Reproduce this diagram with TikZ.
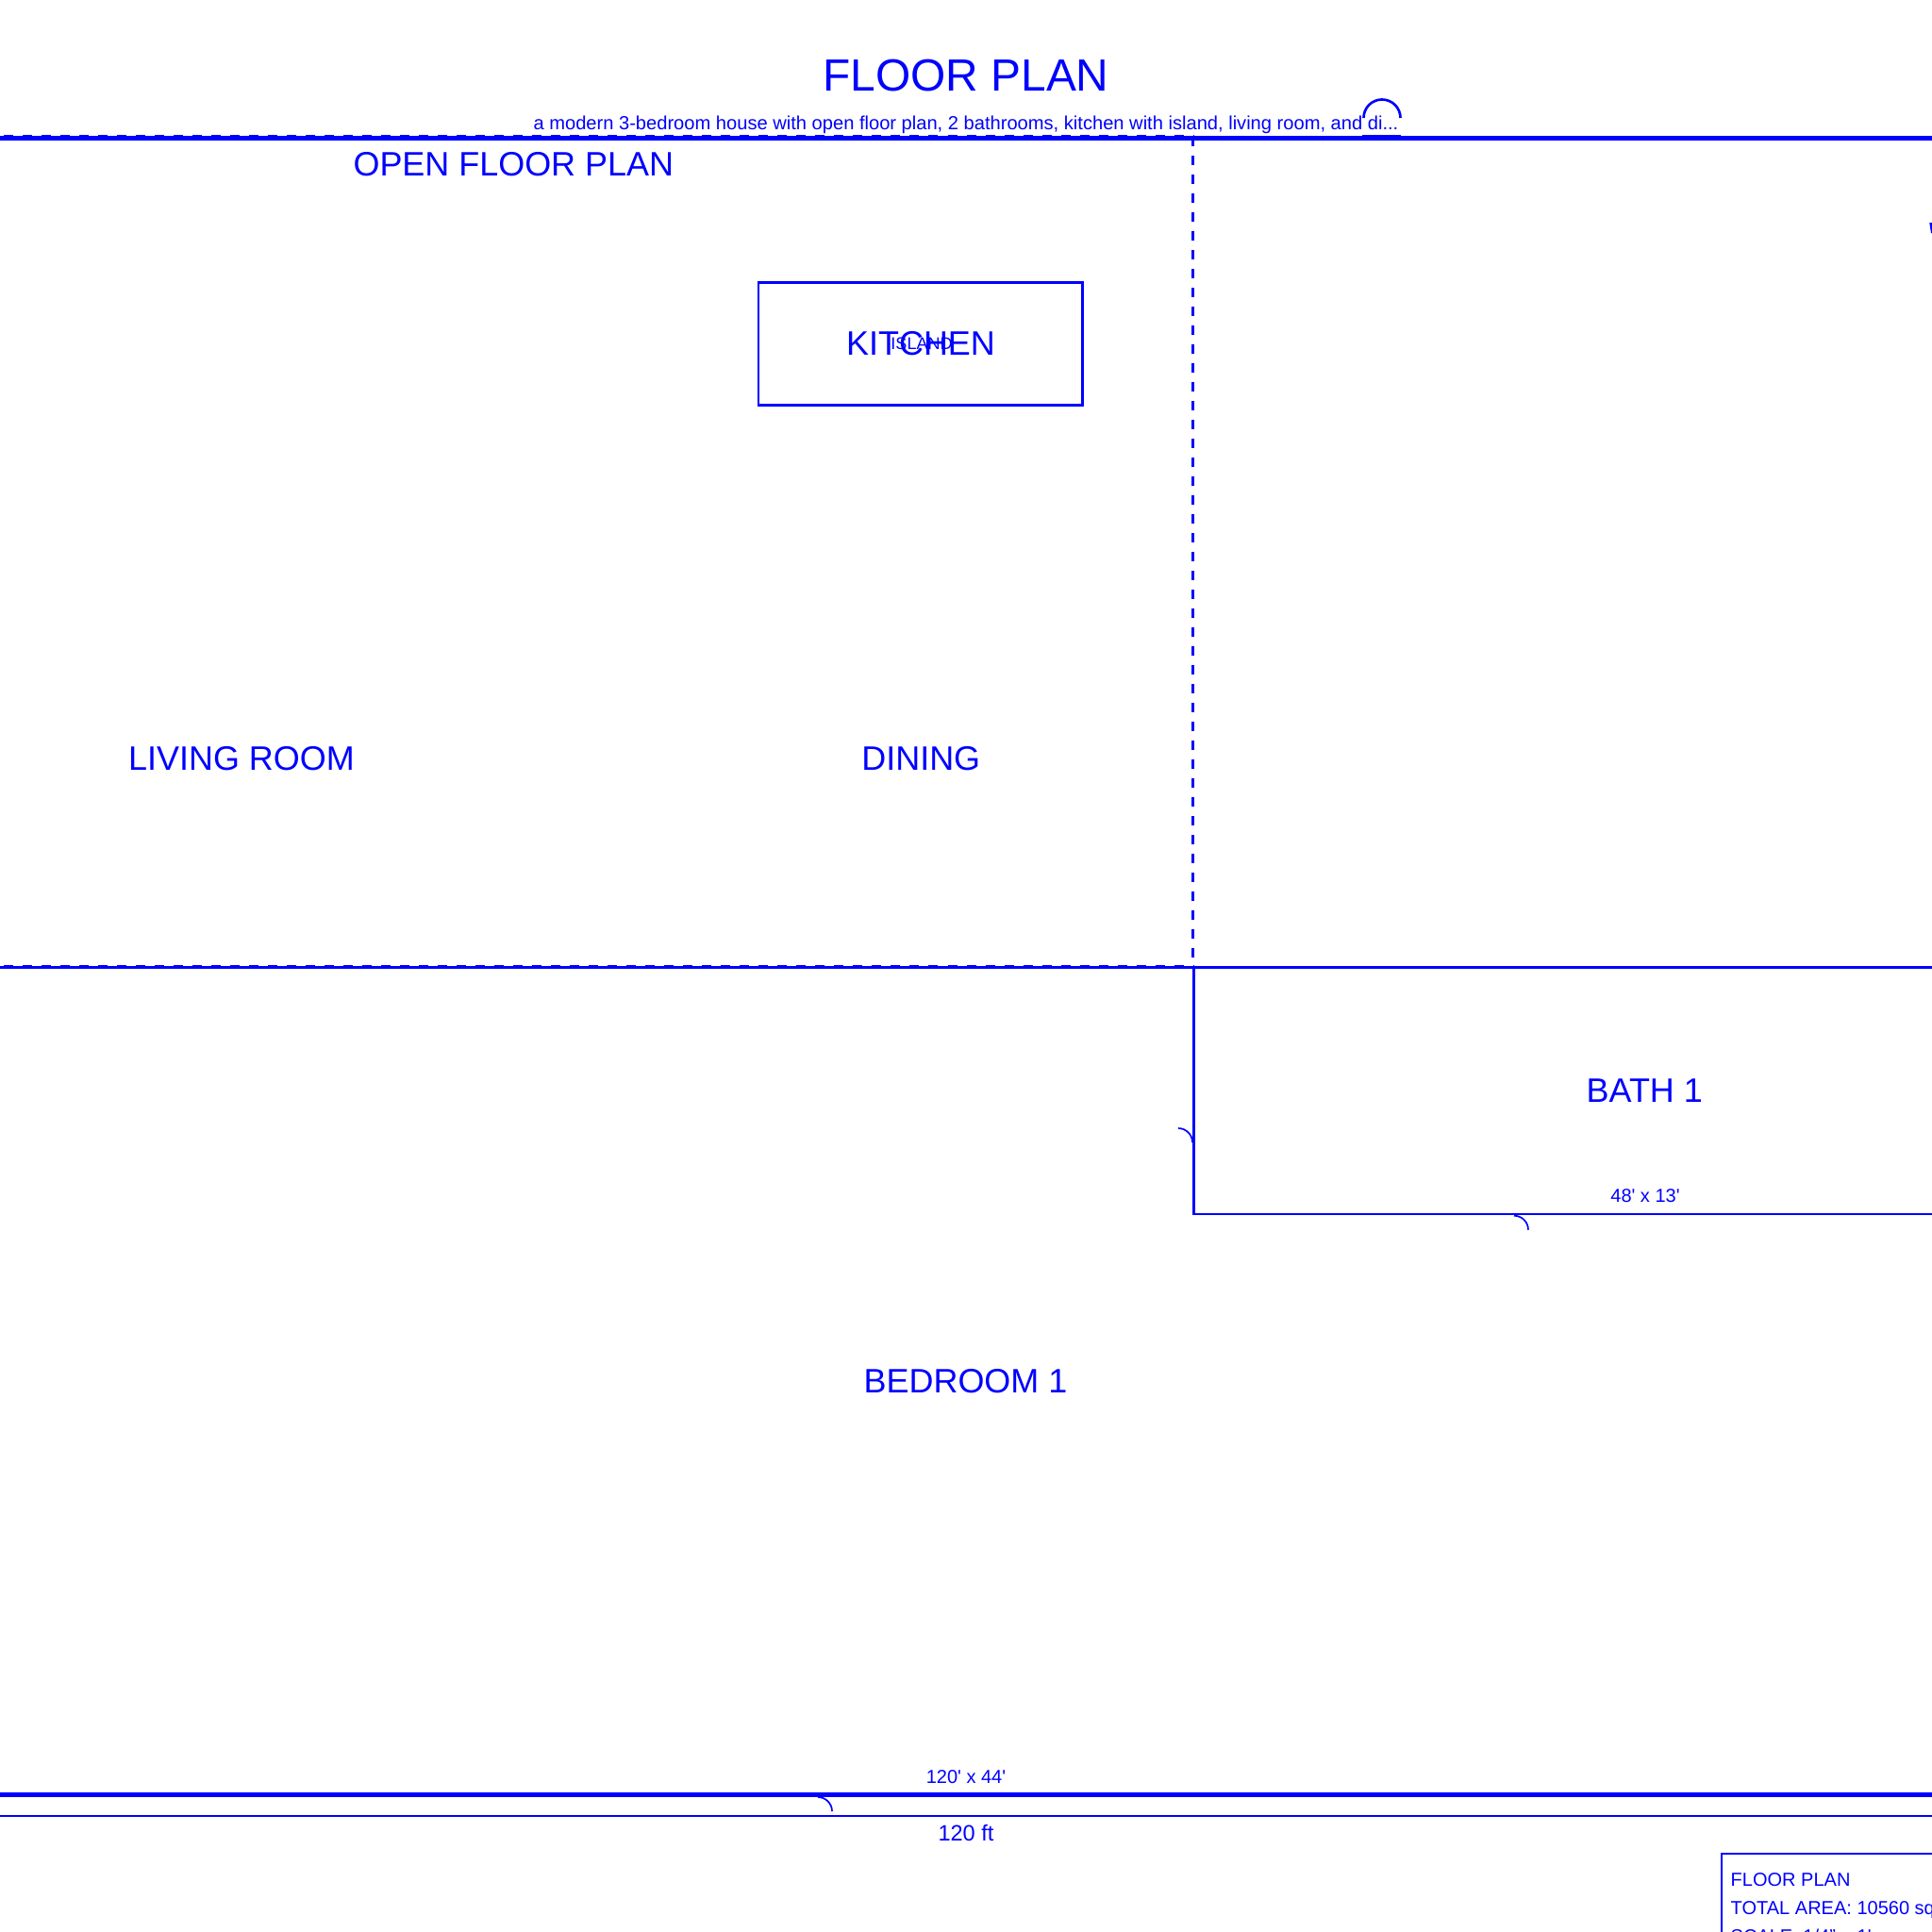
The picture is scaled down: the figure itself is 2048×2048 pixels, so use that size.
\documentclass[tikz,border=0pt]{standalone}
\usepackage{fontspec}
\setmainfont{Liberation Sans}
\newcommand{\pxfont}[1]{\fontsize{#1}{#1}\selectfont}
\definecolor{planblue}{RGB}{0,0,255}
\tikzset{
  wall/.style={draw=planblue,line width=0.76pt},
  thickwall/.style={draw=planblue,line width=1.52pt},
  openwall/.style={draw=planblue,line width=0.76pt,dash pattern=on 2.845pt off 2.845pt},
  swing/.style={draw=planblue,line width=0.48pt},
  label/.style={text=planblue,inner sep=0pt,anchor=base},
  roomlabel/.style={label,font=\pxfont{10.22pt}},
  dimlabel/.style={label,font=\pxfont{5.69pt}},
  blocklabel/.style={label,anchor=base west,font=\pxfont{5.69pt}}
}
\begin{document}
\begin{tikzpicture}[x=0.01cm,y=-0.01cm]
        \useasboundingbox (0,0) rectangle (2048,2048);
        \node[label,font=\pxfont{13.6pt}] (title) at (1024,96.7) {FLOOR PLAN};
        \node[dimlabel,font=\pxfont{5.72pt}] (subtitle) at (1024,137.2) {a modern 3-bedroom house with open floor plan, 2 bathrooms, kitchen with island, living room, and di...};
        \draw[thickwall] (0,146.3) -- (2048,146.3);
        \draw[openwall,dash phase=4.55pt] (0,144) -- (1265,144);
        \draw[openwall] (1264.7,145) -- (1264.7,1024);
        \draw[openwall,dash phase=4.55pt] (0,1024) -- (1265,1024);
        \draw[wall] (1444,144) -- (1485,144);
        \draw[wall] (1445.5,125) arc (180:360:19.5);
        \draw[wall] (0,1025.3) -- (2048,1025.3);
        \draw[wall] (2048,1287) -- (1265.7,1287) -- (1265.7,1025.3);
        \draw[swing] (1249,1196) arc (270:360:15);
        \draw[swing] (1605,1288.7) arc (270:360:15);
        \draw[swing] (867,1905) arc (270:360:15);
        \draw[thickwall] (0,1902.3) -- (2048,1902.3);
        \draw[wall] (0,1925) -- (2048,1925);
        \draw[wall] (804,299.3) rectangle (1147.7,429.3);
        \fill[planblue] (2045.3,236) -- (2048,236) -- (2048,247) -- (2047,247) -- cycle;
        \node[roomlabel] (openplan) at (544.3,186.3) {OPEN FLOOR PLAN};
        \node[roomlabel] (kitchen) at (976,376) {KITCHEN};
        \node[label,font=\pxfont{5.12pt}] (island) at (977,370.3) {ISLAND};
        \node[roomlabel] (living) at (256,816.5) {LIVING ROOM};
        \node[roomlabel] (dining) at (976.3,816.5) {DINING};
        \node[roomlabel] (bath) at (1743.3,1168.7) {BATH 1};
        \node[dimlabel] (bathsize) at (1744,1274) {48\textquotesingle{} x 13\textquotesingle};
        \node[roomlabel] (bedroom) at (1023.5,1476.7) {BEDROOM 1};
        \node[dimlabel] (bedsize) at (1024,1890.7) {120\textquotesingle{} x 44\textquotesingle};
        \node[label,font=\pxfont{6.7pt}] (width) at (1024,1951.7) {120 ft};
        \draw[wall] (1825,2100) -- (1825,1965) -- (2100,1965);
        \node[blocklabel] (blockname) at (1834,1999) {FLOOR PLAN};
        \node[blocklabel] (blockarea) at (1834,2029) {TOTAL AREA: 10560 sq ft};
        \node[blocklabel] (blockscale) at (1834,2059) {SCALE: 1/4" = 1\textquotesingle};
\end{tikzpicture}
\end{document}
